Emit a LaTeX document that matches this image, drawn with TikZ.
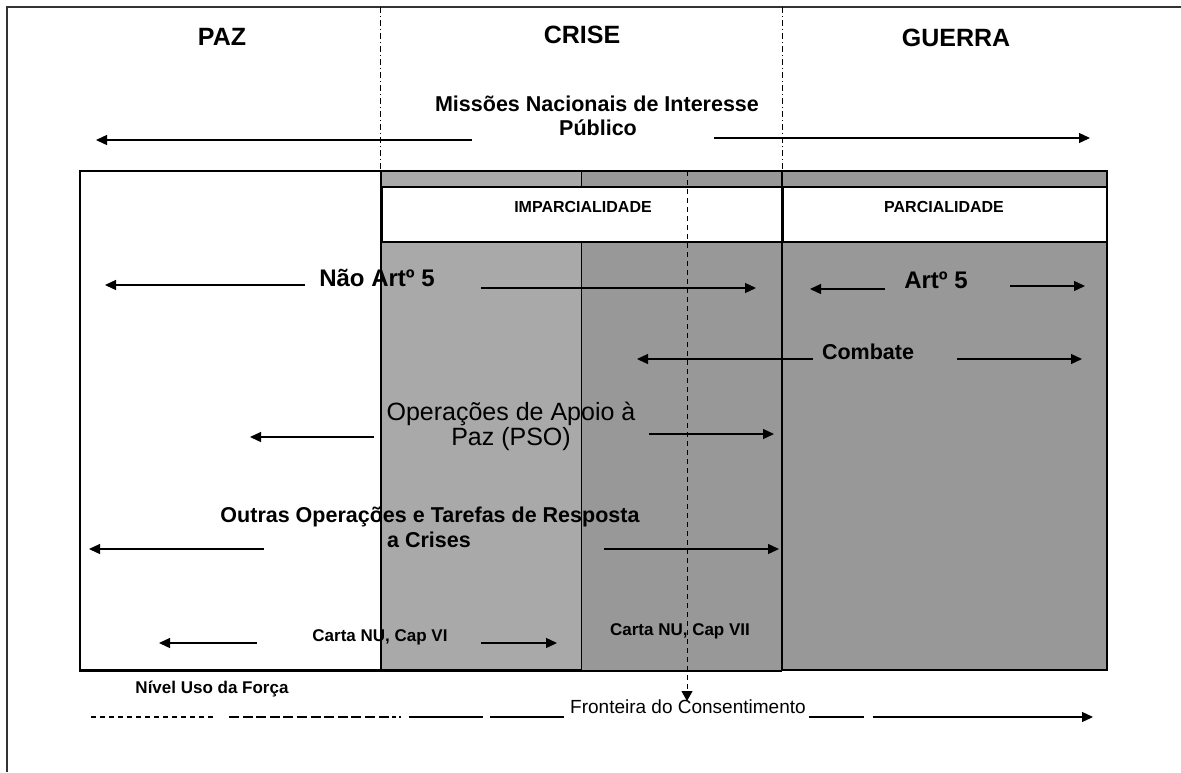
\documentclass[tikz,border=0pt]{standalone}
\usepackage{fontspec}
\setmainfont{Liberation Sans}
\usetikzlibrary{arrows.meta}
\definecolor{lgray}{HTML}{A9A9A9}
\definecolor{dgray}{HTML}{989898}
\definecolor{framec}{HTML}{333333}
\begin{document}
\begin{tikzpicture}[x=1pt,y=-1pt,
  arr/.style={-{Triangle[length=11pt,width=10pt]}, line width=1.3pt},
  txt/.style={anchor=base, inner sep=0pt},
  title/.style={txt, font=\fontsize{25}{29}\selectfont\bfseries},
  bigb/.style={txt, font=\fontsize{21.5}{24}\selectfont\bfseries},
  artb/.style={txt, font=\fontsize{24}{28}\selectfont\bfseries},
  bandt/.style={txt, font=\fontsize{16}{19}\selectfont\bfseries},
  pso/.style={txt, font=\fontsize{25}{28}\selectfont},
  smallb/.style={txt, font=\fontsize{17}{20}\selectfont\bfseries},
  fron/.style={txt, font=\fontsize{19}{22}\selectfont},
  dashdot/.style={line width=1pt, dash pattern=on 6pt off 3pt on 1pt off 3pt}]
\useasboundingbox (0,0) rectangle (1181,772);
% outer frame
\draw[framec, line width=1.5pt] (7,772) -- (7,7) -- (1181,7);
% regions
\fill[white] (80,171) rectangle (381,670);
\fill[lgray] (381,171) rectangle (581,670);
\fill[dgray] (581,171) rectangle (782,671);
\fill[dgray] (782,171) rectangle (1107,670);
% bands
\draw[line width=1.5pt, fill=white] (382,187) rectangle (782,242);
\draw[line width=1.5pt, fill=white] (783,187) rectangle (1107,242);
% outlines
\draw[line width=1.8pt] (80,670) -- (80,171) -- (1107,171) -- (1107,670) -- (782,670);
\draw[line width=3pt] (79,670) -- (582,670);
\draw[line width=1.8pt] (581,671) -- (782,671);
\draw[line width=1.5pt] (381,171) -- (381,670);
\draw[line width=1pt] (581,171) -- (581,187) (581,242) -- (581,670);
\draw[line width=2pt] (782,171) -- (782,671);
% consent boundary
\draw[line width=1pt, dash pattern=on 5pt off 4pt, -{Triangle[length=10pt,width=11pt]}] (687,171) -- (687,701);
% phase boundaries
\draw[dashdot] (380,7) -- (380,171);
\draw[dashdot] (782,7) -- (782,171);
% titles
\node[title] (paz) at (222,45) {PAZ};
\node[title] (crise) at (582,43) {CRISE};
\node[title] (guerra) at (956,46) {GUERRA};
% national missions
\node[bigb] (miss1) at (597,111) {Missões Nacionais de Interesse};
\node[bigb] (miss2) at (598,135) {Público};
\draw[arr] (472,140) -- (96,140);
\draw[arr] (714,138) -- (1090,138);
% bands text
\node[bandt] (imp) at (583,212) {IMPARCIALIDADE};
\node[bandt] (parc) at (944,212) {PARCIALIDADE};
% Nao art 5
\node[artb] (nao) at (377,286) {Não Artº 5};
\draw[arr] (305,285) -- (105,285);
\draw[arr] (481,288) -- (756,288);
% art 5
\node[artb] (art) at (936,288) {Artº 5};
\draw[arr] (885,289) -- (810,289);
\draw[arr] (1010,286) -- (1085,286);
% combate
\node[bigb] (comb) at (868,359) {Combate};
\draw[arr] (813,359) -- (637,359);
\draw[arr] (957,359) -- (1082,359);
% PSO
\node[pso] (pso1) at (511,420) {Operações de Apoio à};
\node[pso] (pso2) at (511,445) {Paz (PSO)};
\draw[arr] (374,437) -- (250,437);
\draw[arr] (649,434) -- (774,434);
% outras
\node[bigb] (out1) at (430,522) {Outras Operações e Tarefas de Resposta};
\node[bigb] (out2) at (429,547) {a Crises};
\draw[arr] (264,549) -- (89,549);
\draw[arr] (604,549) -- (779,549);
% carta
\node[smallb] (cvi) at (380,641) {Carta NU, Cap VI};
\draw[arr] (257,643) -- (159,643);
\draw[arr] (481,643) -- (557,643);
\node[smallb] (cvii) at (680,635) {Carta NU, Cap VII};
% nivel
\node[smallb] (niv) at (212,693) {Nível Uso da Força};
% fronteira
\node[fron, anchor=base west] (fr) at (570,713) {Fronteira do Consentimento};
\draw[line width=1.3pt, dash pattern=on 5pt off 4pt] (91,717) -- (215,717);
\draw[line width=1.3pt, dash pattern=on 10pt off 3.6pt] (229,717) -- (396,717);
\draw[line width=1.3pt] (399,717) -- (401,717);
\draw[line width=1.3pt] (409,717) -- (483,717);
\draw[line width=1.3pt] (490,717) -- (564,717);
\draw[line width=1.3pt] (809,717) -- (864,717);
\draw[arr] (873,717) -- (1093,717);
\end{tikzpicture}
\end{document}
